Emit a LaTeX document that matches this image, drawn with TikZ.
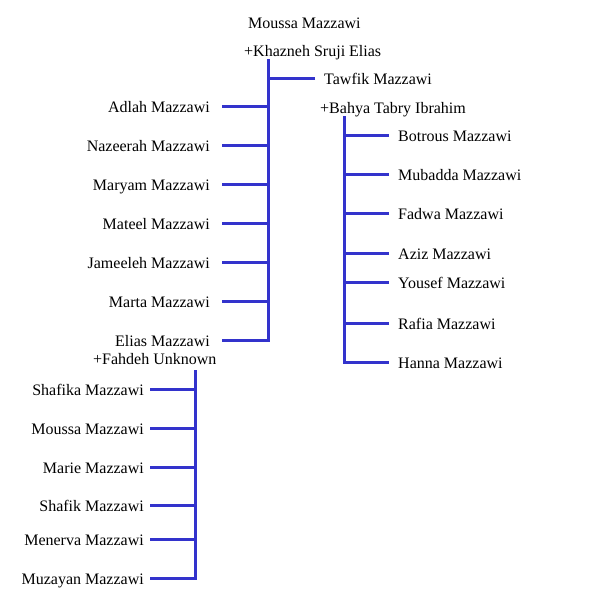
\documentclass[tikz,border=0pt]{standalone}
\usepackage{fontspec}
\setmainfont{Liberation Serif}
\usepackage{tikz}

\definecolor{treeblue}{RGB}{51,51,204}
\tikzset{
  person/.style={inner ysep=0pt, text height=15pt, text depth=3pt, font=\fontsize{16}{19}\selectfont},
  couple/.style={person, anchor=base west, inner xsep=0pt},
  kidleft/.style={person, anchor=east, inner xsep=12pt},
  kidlow/.style={person, anchor=east, inner xsep=6pt},
  kidright/.style={person, anchor=west, inner xsep=9pt},
  link/.style={treeblue, line width=3pt}
}

\begin{document}
\begin{tikzpicture}[x=1pt,y=-1pt]
\useasboundingbox (0,0) rectangle (589,613);

%Moussa and Khazneh
\node[couple] (moussa) at (248,28.5) {Moussa Mazzawi};
\node[couple] (khazneh) at (244,56.5) {+Khazneh Sruji Elias};
\coordinate (moussaTop) at (268,59);

\node[kidright] (tawfik) at (315,78) {Tawfik Mazzawi};
\node[kidleft] (adlah) at (222,106) {Adlah Mazzawi};
\node[kidleft] (nazeerah) at (222,145) {Nazeerah Mazzawi};
\node[kidleft] (maryam) at (222,184) {Maryam Mazzawi};
\node[kidleft] (mateel) at (222,223) {Mateel Mazzawi};
\node[kidleft] (jameeleh) at (222,262) {Jameeleh Mazzawi};
\node[kidleft] (marta) at (222,301) {Marta Mazzawi};
\node[kidleft] (elias) at (222,340) {Elias Mazzawi};

\draw[link] (moussaTop) |- (elias.east);
\draw[link] (tawfik.west) -- (tawfik.west -| moussaTop);
\foreach \k in {adlah,nazeerah,maryam,mateel,jameeleh,marta}
  \draw[link] (\k.east) -- (\k.east -| moussaTop);

%Tawfik and Bahya
\node[couple] (bahya) at (320,113.5) {+Bahya Tabry Ibrahim};
\coordinate (tawfikTop) at (344,116);

\node[kidright] (botrous) at (389,135) {Botrous Mazzawi};
\node[kidright] (mubadda) at (389,174) {Mubadda Mazzawi};
\node[kidright] (fadwa) at (389,213) {Fadwa Mazzawi};
\node[kidright] (aziz) at (389,253) {Aziz Mazzawi};
\node[kidright] (yousef) at (389,282) {Yousef Mazzawi};
\node[kidright] (rafia) at (389,323) {Rafia Mazzawi};
\node[kidright] (hanna) at (389,362) {Hanna Mazzawi};

\draw[link] (tawfikTop) |- (hanna.west);
\foreach \k in {botrous,mubadda,fadwa,aziz,yousef,rafia}
  \draw[link] (\k.west) -- (\k.west -| tawfikTop);

%Elias and Fahdeh
\node[couple] (fahdeh) at (93,364.5) {+Fahdeh Unknown};
\coordinate (eliasTop) at (195,370);

\node[kidlow] (shafika) at (150,389) {Shafika Mazzawi};
\node[kidlow] (moussaJr) at (150,428) {Moussa Mazzawi};
\node[kidlow] (marie) at (150,467) {Marie Mazzawi};
\node[kidlow] (shafik) at (150,505) {Shafik Mazzawi};
\node[kidlow] (menerva) at (150,539) {Menerva Mazzawi};
\node[kidlow] (muzayan) at (150,578) {Muzayan Mazzawi};

\draw[link] (eliasTop) |- (muzayan.east);
\foreach \k in {shafika,moussaJr,marie,shafik,menerva}
  \draw[link] (\k.east) -- (\k.east -| eliasTop);

\end{tikzpicture}
\end{document}
